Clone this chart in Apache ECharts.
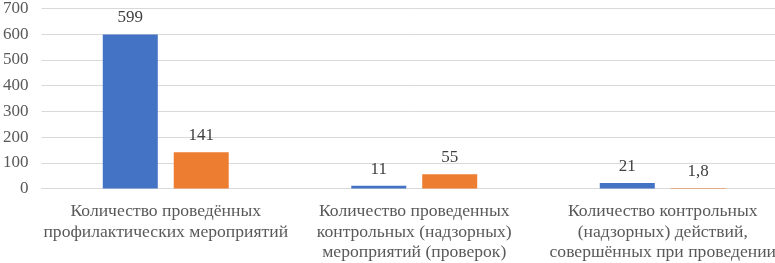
<!DOCTYPE html>
<html>
<head>
<meta charset="utf-8">
<script src="https://cdn.jsdelivr.net/npm/echarts@6/dist/echarts.min.js"></script>
<style>
html,body{margin:0;padding:0;background:#fff;overflow:hidden;width:775px;height:263px;}
#c{width:820px;height:263px;}
</style>
</head>
<body>
<div id="c"></div>
<script>
const categories = [
  "Количество проведённых\nпрофилактических мероприятий",
  "Количество проведенных\nконтрольных (надзорных)\nмероприятий (проверок)",
  "Количество контрольных\n(надзорных) действий,\nсовершённых при проведении"
];
const seriesA = [599, 11, 21];
const seriesB = [141, 55, 1.8];
const yTicks = { min: 0, max: 700, interval: 100 };

const fmt = p => String(p.value).replace('.', ',');
const chart = echarts.init(document.getElementById('c'), null, {renderer: 'canvas'});
const font = '"Liberation Serif", "Times New Roman", serif';
chart.setOption({
  animation: false,
  textStyle: { fontFamily: font },
  grid: { left: 40, top: 5, width: 747, height: 186, containLabel: false },
  xAxis: {
    type: 'category',
    data: categories,
    axisLine: { show: true, lineStyle: { color: '#d9d9d9', width: 1 } },
    axisTick: { show: false },
    axisLabel: { color: '#595959', fontFamily: font, fontSize: 17.6, lineHeight: 20.5, margin: 13, interval: 0 }
  },
  yAxis: {
    type: 'value',
    min: yTicks.min, max: yTicks.max, interval: yTicks.interval,
    axisLine: { show: false },
    axisTick: { show: false },
    splitLine: { lineStyle: { color: '#d9d9d9', width: 1 } },
    axisLabel: { color: '#595959', fontFamily: font, fontSize: 17, margin: 13 }
  },
  series: [
    {
      name: 'Ряд 1', type: 'bar', data: seriesA, barWidth: 55, barGap: '29%',
      itemStyle: { color: '#4472C4' },
      label: { show: true, position: 'top', distance: 8, color: '#404040', fontFamily: font, fontSize: 17, formatter: fmt }
    },
    {
      name: 'Ряд 2', type: 'bar', data: seriesB, barWidth: 55,
      itemStyle: { color: '#ED7D31' },
      label: { show: true, position: 'top', distance: 8, color: '#404040', fontFamily: font, fontSize: 17, formatter: fmt }
    }
  ]
});
</script>
</body>
</html>
